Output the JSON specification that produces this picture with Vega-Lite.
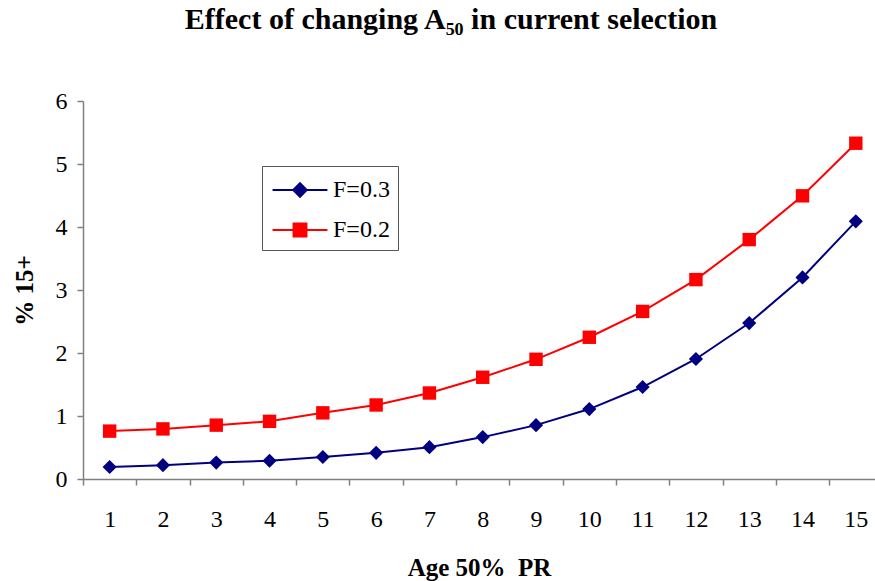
{
  "$schema": "https://vega.github.io/schema/vega-lite/v6.json",
  "autosize": {"type": "none"},
  "width": 792,
  "height": 378,
  "padding": {"top": 101, "left": 83, "right": 0, "bottom": 102},
  "background": "white",
  "title": {
    "text": "Effect of changing A₅₀ in current selection",
    "font": "Liberation Serif",
    "fontSize": 30,
    "fontWeight": "bold",
    "color": "black",
    "anchor": "middle",
    "dx": -28,
    "offset": 54
  },
  "config": {
    "view": {"stroke": null},
    "font": "Liberation Serif",
    "axis": {
      "labelFont": "Liberation Serif",
      "labelFontSize": 24,
      "labelColor": "black",
      "titleFont": "Liberation Serif",
      "titleFontSize": 25,
      "titleFontWeight": "bold",
      "titleColor": "black",
      "domainColor": "#808080",
      "tickColor": "#808080",
      "domainWidth": 1.5,
      "tickWidth": 1.5,
      "grid": false
    }
  },
  "data": {
    "values": [
      {"age": 1, "series": "F=0.3", "pct": 0.19},
      {"age": 2, "series": "F=0.3", "pct": 0.22},
      {"age": 3, "series": "F=0.3", "pct": 0.26},
      {"age": 4, "series": "F=0.3", "pct": 0.29},
      {"age": 5, "series": "F=0.3", "pct": 0.35},
      {"age": 6, "series": "F=0.3", "pct": 0.415},
      {"age": 7, "series": "F=0.3", "pct": 0.505},
      {"age": 8, "series": "F=0.3", "pct": 0.665},
      {"age": 9, "series": "F=0.3", "pct": 0.855},
      {"age": 10, "series": "F=0.3", "pct": 1.11},
      {"age": 11, "series": "F=0.3", "pct": 1.46},
      {"age": 12, "series": "F=0.3", "pct": 1.905},
      {"age": 13, "series": "F=0.3", "pct": 2.475},
      {"age": 14, "series": "F=0.3", "pct": 3.2},
      {"age": 15, "series": "F=0.3", "pct": 4.09},
      {"age": 1, "series": "F=0.2", "pct": 0.76},
      {"age": 2, "series": "F=0.2", "pct": 0.795},
      {"age": 3, "series": "F=0.2", "pct": 0.855},
      {"age": 4, "series": "F=0.2", "pct": 0.915},
      {"age": 5, "series": "F=0.2", "pct": 1.05},
      {"age": 6, "series": "F=0.2", "pct": 1.175},
      {"age": 7, "series": "F=0.2", "pct": 1.365},
      {"age": 8, "series": "F=0.2", "pct": 1.615},
      {"age": 9, "series": "F=0.2", "pct": 1.9},
      {"age": 10, "series": "F=0.2", "pct": 2.25},
      {"age": 11, "series": "F=0.2", "pct": 2.66},
      {"age": 12, "series": "F=0.2", "pct": 3.165},
      {"age": 13, "series": "F=0.2", "pct": 3.8},
      {"age": 14, "series": "F=0.2", "pct": 4.495},
      {"age": 15, "series": "F=0.2", "pct": 5.33}
    ]
  },
  "encoding": {
    "x": {
      "field": "age",
      "type": "quantitative",
      "scale": {"domain": [0.5, 15.36], "nice": false, "zero": false},
      "axis": null
    },
    "y": {
      "field": "pct",
      "type": "quantitative",
      "scale": {"domain": [0, 6], "nice": false},
      "axis": {
        "title": "% 15+",
        "values": [0, 1, 2, 3, 4, 5, 6],
        "tickSize": 6,
        "labelPadding": 10,
        "titlePadding": 18
      }
    },
    "color": {
      "field": "series",
      "type": "nominal",
      "scale": {"domain": ["F=0.3", "F=0.2"], "range": ["#000080", "#ff0000"]},
      "legend": {
        "title": null,
        "orient": "none",
        "legendX": 179,
        "legendY": 65,
        "strokeColor": "#555555",
        "fillColor": "white",
        "padding": 8,
        "symbolSize": 900,
        "symbolOffset": 14,
        "labelOffset": 17,
        "rowPadding": 12,
        "labelFont": "Liberation Serif",
        "labelFontSize": 24,
        "labelColor": "black",
        "symbolStrokeWidth": 2,
        "encode": {
          "symbols": {
            "update": {
              "shape": {"signal": "datum.value === 'F=0.3' ? 'M-1.83,0L1.83,0M0,-0.45L0.45,0L0,0.45L-0.45,0Z' : 'M-1.83,0L1.83,0M-0.43,-0.43L0.43,-0.43L0.43,0.43L-0.43,0.43Z'"},
              "fill": {"signal": "datum.value === 'F=0.3' ? '#000080' : '#ff0000'"},
              "stroke": {"signal": "datum.value === 'F=0.3' ? '#000080' : '#ff0000'"},
              "strokeWidth": {"value": 2},
              "opacity": {"value": 1},
              "fillOpacity": {"value": 1}
            }
          }
        }
      }
    }
  },
  "layer": [
    {
      "mark": {"type": "line", "strokeWidth": 2},
      "encoding": {
        "x": {
          "field": "age",
          "type": "quantitative",
          "scale": {"domain": [0.5, 15.36], "nice": false, "zero": false},
          "axis": {
            "title": "Age 50%\u00a0 PR",
            "orient": "bottom",
            "values": [1, 2, 3, 4, 5, 6, 7, 8, 9, 10, 11, 12, 13, 14, 15],
            "ticks": false,
            "labelPadding": 28,
            "titlePadding": 24
          }
        }
      }
    },
    {
      "transform": [{"filter": "datum.series === 'F=0.3'"}],
      "mark": {"type": "point", "filled": true, "opacity": 1, "shape": "diamond", "size": 200}
    },
    {
      "transform": [{"filter": "datum.series === 'F=0.2'"}],
      "mark": {"type": "point", "filled": true, "opacity": 1, "shape": "square", "size": 180}
    },
    {
      "mark": {"type": "rule", "opacity": 0},
      "encoding": {
        "x": {
          "field": "age",
          "type": "quantitative",
          "axis": {
            "orient": "bottom",
            "title": null,
            "labels": false,
            "domain": false,
            "values": [0.5, 1.5, 2.5, 3.5, 4.5, 5.5, 6.5, 7.5, 8.5, 9.5, 10.5, 11.5, 12.5, 13.5, 14.5],
            "tickSize": 6
          }
        },
        "y": {"field": "pct", "type": "quantitative"},
        "color": {"value": "white"}
      }
    }
  ],
  "resolve": {"axis": {"x": "independent"}}
}
